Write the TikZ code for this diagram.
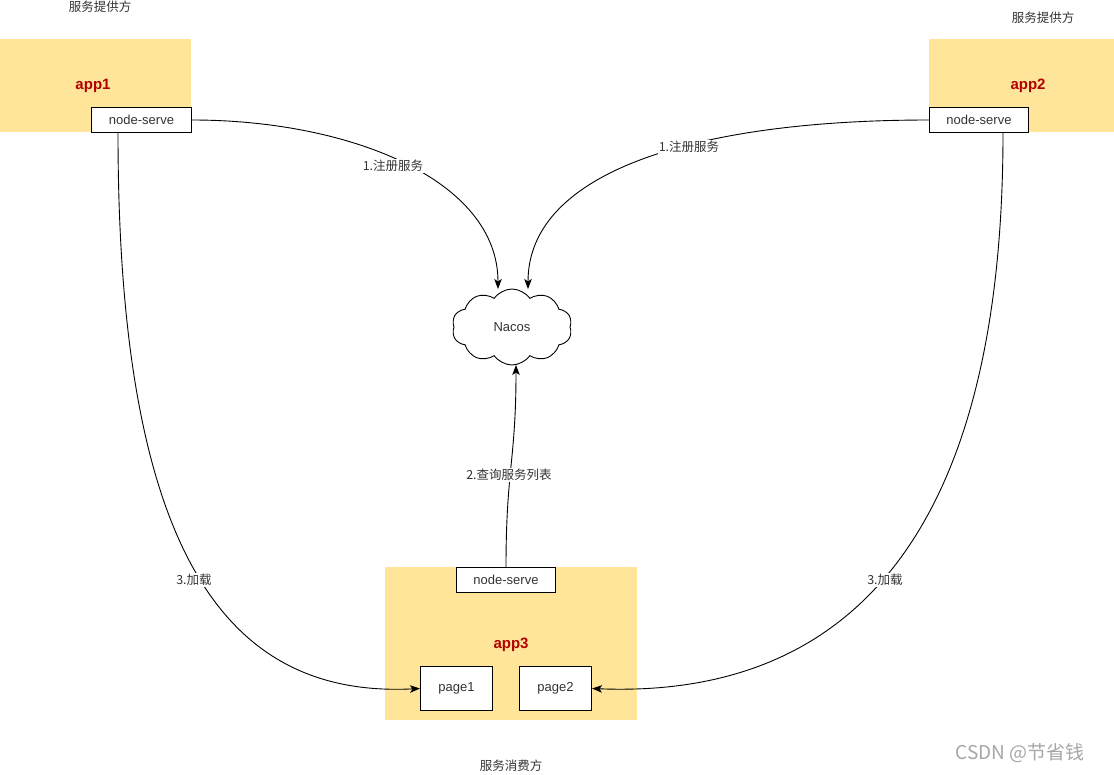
\documentclass[tikz,border=0pt]{standalone}
\usepackage{fontspec}
\setmainfont{Liberation Sans}
\newfontfamily\cjk{Noto Sans CJK SC}
\usetikzlibrary{shapes.symbols,arrows.meta}
\definecolor{appfill}{HTML}{FFE599}
\definecolor{appred}{HTML}{B20000}
\definecolor{txt}{HTML}{333333}
\begin{document}
\begin{tikzpicture}[x=1pt,y=-1pt,
  appbox/.style={fill=appfill,draw=none,inner sep=0},
  svc/.style={draw=black,fill=white,line width=1pt,inner sep=0,text=txt,font=\fontsize{13}{15}\selectfont},
  applabel/.style={text=appred,font=\fontsize{15}{17}\selectfont\bfseries},
  lbl/.style={text=txt,font=\cjk\fontsize{12.5}{14}\selectfont,fill=white,inner sep=1pt},
  plain/.style={text=txt,font=\cjk\fontsize{12.5}{14}\selectfont},
  conn/.style={line width=0.9pt,-{Stealth[length=10pt,width=7.5pt,inset=2.5pt]}}
]
\useasboundingbox (0,0) rectangle (1114,774);
% app boxes
\node[appbox,minimum width=191,minimum height=93,anchor=north west] (app1) at (0,39) {};
\node[appbox,minimum width=185,minimum height=93,anchor=north west] (app2) at (929,39) {};
\node[appbox,minimum width=252,minimum height=153,anchor=north west] (app3) at (385,567) {};
\node[applabel] (l1) at (93,86) {app1};
\node[applabel] (l2) at (1028,86) {app2};
\node[applabel] (l3) at (511,645) {app3};
% service boxes
\node[svc,minimum width=100,minimum height=25,anchor=north west] (ns1) at (91,107) {node-serve};
\node[svc,minimum width=99,minimum height=25,anchor=north west] (ns2) at (929,107) {node-serve};
\node[svc,minimum width=99,minimum height=25,anchor=north west] (ns3) at (456,567) {node-serve};
\node[svc,minimum width=72,minimum height=44,anchor=north west] (p1) at (420,666) {page1};
\node[svc,minimum width=72,minimum height=44,anchor=north west] (p2) at (519,666) {page2};
% cloud
\node[cloud,draw=black,fill=white,line width=0.9pt,cloud puffs=10,cloud puff arc=110,aspect=1.6,
  minimum width=120,minimum height=76,inner sep=0,text=txt,font=\fontsize{13}{15}\selectfont] (nacos) at (512,327) {Nacos};
\coordinate (n1) at (498,289);
\coordinate (n2) at (528,289);
\coordinate (n3) at (516,365);
% texts
\node[plain] (t1) at (100,7) {服务提供方};
\node[plain] (t2) at (1043,18) {服务提供方};
\node[plain] (t3) at (511,766) {服务消费方};
\node[text=gray!70,font=\cjk\fontsize{19}{21}\selectfont] (wm) at (1020,753) {CSDN @节省钱};
% connectors
\draw[conn] (ns1.east) .. controls (350,120) and (498,180) .. (n1);
\draw[conn] (ns2.west) .. controls (700,120) and (528,170) .. (n2);
\draw[conn] (ns3.north) .. controls (506,470) and (516,460) .. (n3);
\draw[conn] (ns1.south -| 118,132) .. controls (118,560) and (230,698) .. (p1.west);
\draw[conn] (ns2.south -| 1003,132) .. controls (1003,560) and (830,698) .. (p2.east);
% labels
\node[lbl] (c1) at (393,166) {1.注册服务};
\node[lbl] (c2) at (689,147) {1.注册服务};
\node[lbl] (c3) at (509,475) {2.查询服务列表};
\node[lbl] (c4) at (194,580) {3.加载};
\node[lbl] (c5) at (885,580) {3.加载};
\end{tikzpicture}
\end{document}
